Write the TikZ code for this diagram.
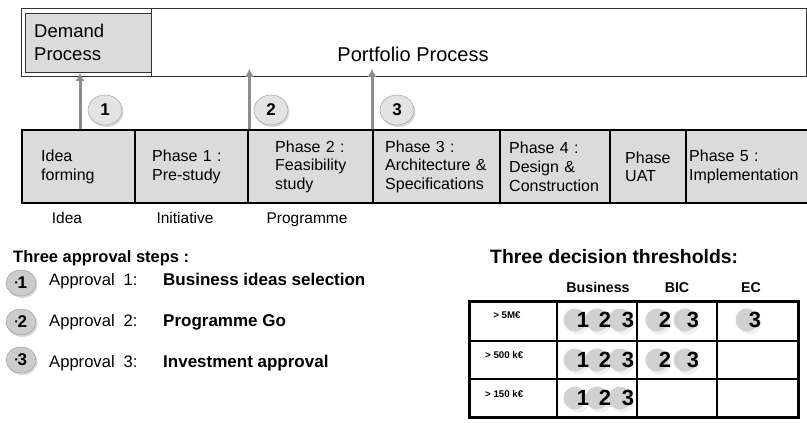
\documentclass[tikz,border=0pt]{standalone}
\usepackage{fontspec}
\setmainfont{Liberation Sans}
\usetikzlibrary{arrows.meta,shapes.geometric,shadows}
\newcommand{\fsz}[2]{\fontsize{#1}{#2}\selectfont}
\begin{document}
\begin{tikzpicture}[x=1pt,y=-1pt,every node/.style={inner sep=0pt},
  box/.style={draw=black!80,line width=0.8pt,anchor=north west},
  cell/.style={draw=black,line width=2.4pt,fill=gray!28,minimum height=73pt,anchor=north west,align=left,inner ysep=0pt,font=\fsz{16}{18.7}},
  lbl/.style={anchor=base,font=\fsz{15.5}{18}},
  stepno/.style={ellipse,draw=gray!85,fill=gray!22,minimum width=34pt,minimum height=30pt,font=\bfseries\fsz{17}{17},drop shadow={shadow xshift=1.5pt,shadow yshift=-2pt,opacity=0.3}},
  appno/.style={stepno,fill=gray!40,minimum width=30pt,minimum height=26pt},
  up/.style={draw=gray!90,line width=3pt,-{Latex[length=8pt,width=9pt]}},
  dig/.style={font=\bfseries\fsz{22}{22}}]
\useasboundingbox (0,0) rectangle (807,423);
% process boxes
\node[box,minimum width=785pt,minimum height=68pt] (frame) at (21,8) {};
\node[box,minimum width=655pt,minimum height=68pt] (port) at (151,8) {};
\node[box,fill=gray!28,minimum width=126pt,minimum height=59pt] (demand) at (25,13) {};
\node[anchor=west,align=left,font=\fsz{18.5}{23}] (demtxt) at (34,42.5) {Demand\\Process};
\node[anchor=base,font=\fsz{20}{24}] (porttxt) at (413,61) {Portfolio Process};
% phases
\foreach \x/\w/\p/\t/\n in {21/113/19/{Idea\\forming}/idea,134/113/17/{Phase 1 :\\Pre-study}/pre,
  247/125/27/{Phase 2 :\\Feasibility\\study}/feas,372/127/12/{Phase 3 :\\Architecture \&\\Specifications}/arch,
  499/110/9/{Phase 4 :\\Design \&\\Construction}/design,609/76/15/{Phase\\UAT}/uat,685/124/3/{Phase 5 :\\Implementation}/impl}{
  \pgfmathsetmacro\tw{\w-2*\p}
  \node[cell,minimum width=\w pt,inner xsep=\p pt,text width=\tw pt] (\n) at (\x,129) {\t};
}
% approval arrows
\coordinate (a1) at (80,129);
\draw[up] (a1) -- (a1 |- demand.south);
\draw[up,shorten >=-8pt] (pre.north east) -- (pre.north east |- port.south);
\draw[up,shorten >=-8pt] (arch.north west) -- (arch.north west |- port.south);
\node[stepno] (n1) at (105,110) {1};
\node[stepno] (n2) at (271,110) {2};
\node[stepno] (n3) at (397,110) {3};
\node[lbl] (lidea) at (67,223) {Idea};
\node[lbl] (linit) at (185,223) {Initiative};
\node[lbl] (lprog) at (307,223) {Programme};
% approval steps
\node[anchor=base west,font=\bfseries\fsz{16.5}{20}] (apptitle) at (13,262) {Three approval steps :};
\foreach \i/\y/\c/\t in {1/285/283/Business ideas selection,2/326/322/Programme Go,3/367/360/Investment approval}{
  \node[appno] (ap\i) at (21,\c) {\raisebox{3pt}{\fsz{8}{8}•}\i};
  \node[anchor=base west,font=\fsz{16.6}{20}] (apl\i) at (49,\y) {Approval\hspace{9pt}\i:};
  \node[anchor=base west,font=\bfseries\fsz{17}{20}] (apt\i) at (163,\y) {\t};
}
% thresholds
\node[anchor=base west,font=\bfseries\fsz{19.4}{23}] (thrtitle) at (490,263) {Three decision thresholds:};
\node[anchor=base,font=\bfseries\fsz{14.2}{17}] (hbus) at (598,292) {Business};
\node[anchor=base,font=\bfseries\fsz{14.2}{17}] (hbic) at (677,292) {BIC};
\node[anchor=base,font=\bfseries\fsz{14.2}{17}] (hec) at (751,292) {EC};
\foreach \x in {557,637,717} \draw[line width=2pt] (\x,301) -- (\x,417);
\foreach \y in {341,379} \draw[line width=2pt] (469,\y) -- (798,\y);
\draw[line width=3pt] (469,301) rectangle (798,417);
\node[anchor=base,font=\bfseries\fsz{9.7}{12}] (r1) at (507,318) {> 5M€};
\node[anchor=base west,font=\bfseries\fsz{9.7}{12}] (r2) at (485,358) {> 500 k€};
\node[anchor=base west,font=\bfseries\fsz{9.7}{12}] (r3) at (485,397) {> 150 k€};
\foreach \x/\y/\d in {583/320/1,605/320/2,628/320/3,665/320/2,693/320/3,755/320/3,
  583/360/1,605/360/2,628/360/3,665/360/2,693/360/3,583/398/1,605/398/2,628/398/3}{
  \fill[gray!12] (\x-5,\y+3) circle[radius=11.5pt];
  \fill[gray!36] (\x-8,\y) circle[radius=11.5pt];
}
\foreach \x/\y/\d in {583/320/1,605/320/2,628/320/3,665/320/2,693/320/3,755/320/3,
  583/360/1,605/360/2,628/360/3,665/360/2,693/360/3,583/398/1,605/398/2,628/398/3}
  \node[dig] (d\x\y) at (\x,\y) {\d};
\end{tikzpicture}
\end{document}
